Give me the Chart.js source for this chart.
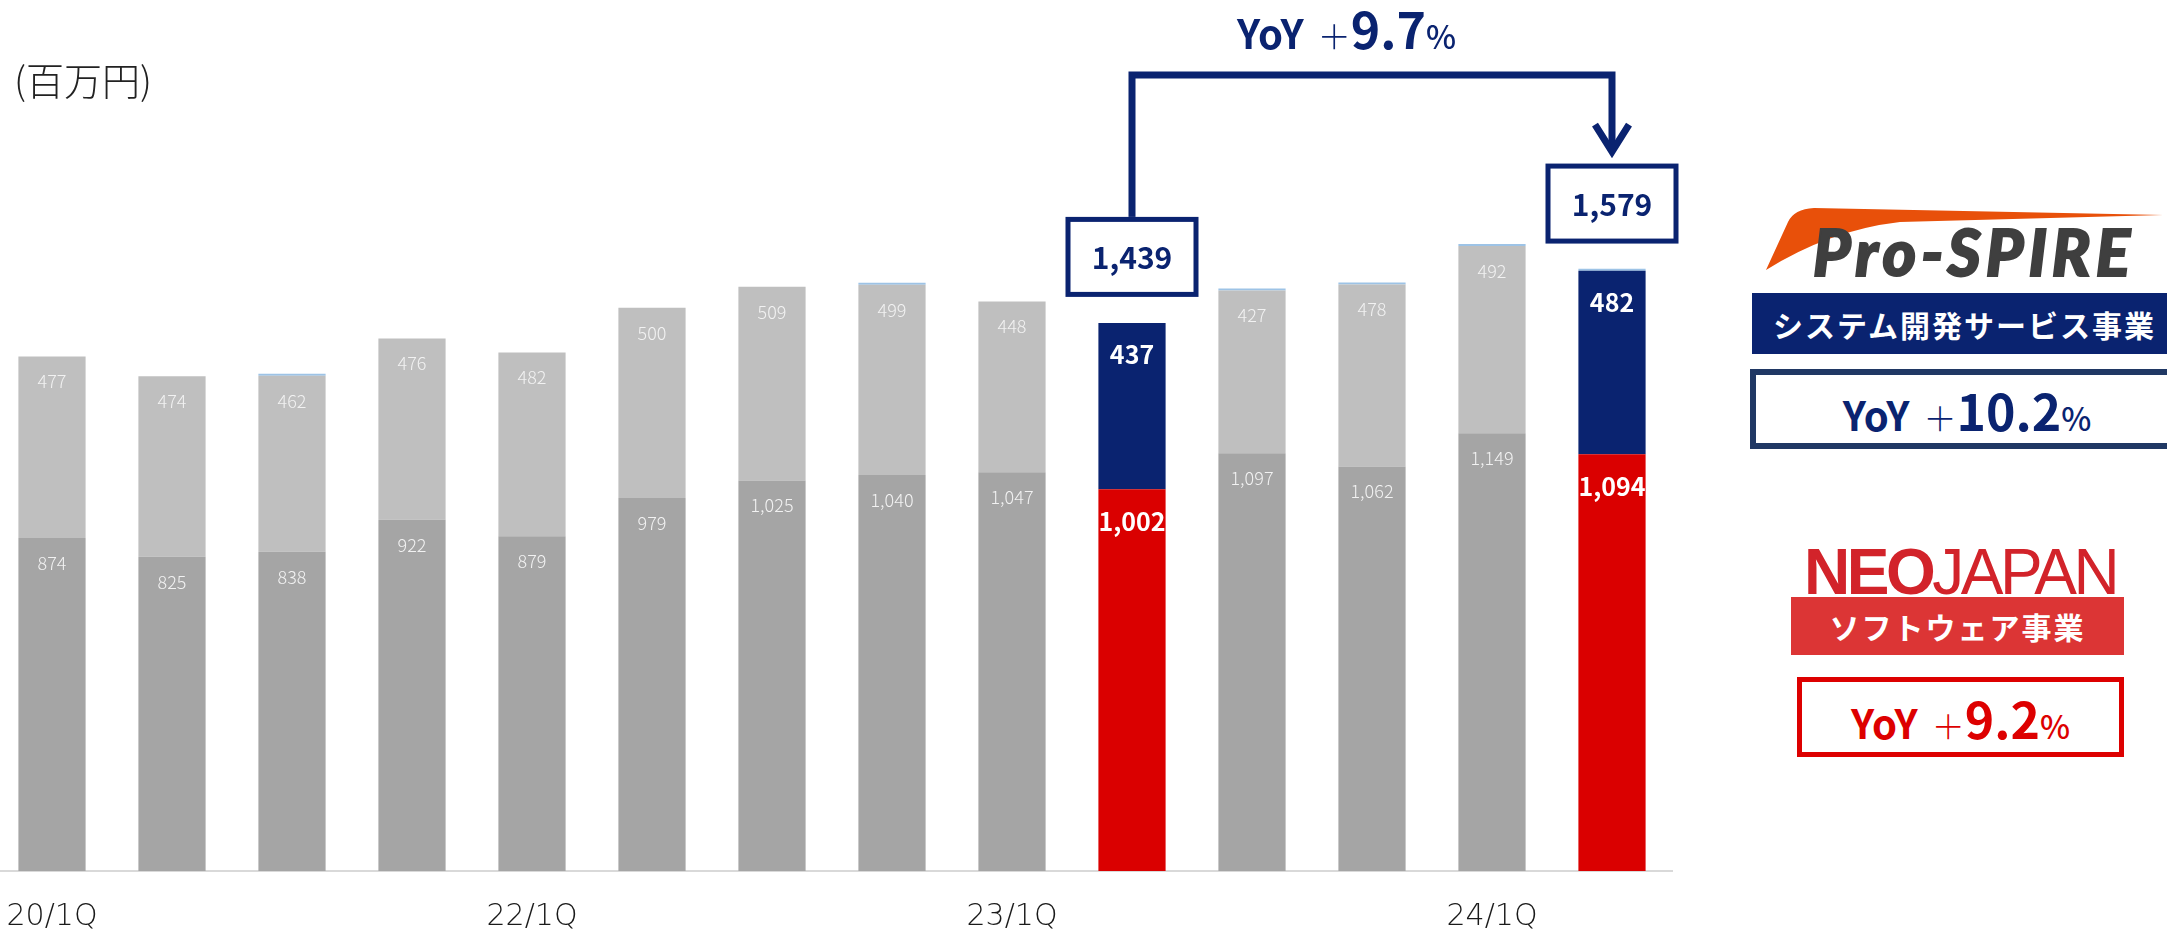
<!DOCTYPE html>
<html lang="ja">
<head>
<meta charset="utf-8">
<title>売上高推移（四半期）</title>
<script src="https://cdn.jsdelivr.net/npm/chart.js@4.4.1/dist/chart.umd.min.js"></script>
<style>
  html, body { margin: 0; padding: 0; background: #fff; }
  body {
    width: 2167px; height: 929px; position: relative; overflow: hidden;
    font-family: "Noto Sans CJK JP", "Noto Sans", sans-serif;
  }
  #chart-wrap { position: absolute; left: -8px; top: 0; width: 2175px; height: 935px; }
  .abs { position: absolute; white-space: nowrap; line-height: 1; }

  .unit { left: 14px; top: 60px; font-size: 38px; font-weight: 300; color: #222; }

  .yoy { display: flex; align-items: baseline; font-weight: bold; line-height: 1; }
  .yoy .y  { font-size: 40px; }
  .yoy .p  { font-size: 33px; font-weight: 300; margin-left: 14px; }
  .yoy .n  { font-size: 50px; }
  .yoy .pc { font-size: 32px; font-weight: 500; }
  .navy { color: #0a2370; }
  .red  { color: #dd0000; }

  .box { position: absolute; box-sizing: border-box; display: flex; align-items: center; justify-content: center; background: #fff; }

  .banner {
    position: absolute; display: flex; align-items: center; justify-content: center;
    color: #fff; font-weight: bold; font-size: 30px; letter-spacing: 2px; line-height: 1;
  }

  .prospire {
    left: 1813px; top: 220px; font-family: Lato, "Noto Sans", sans-serif;
    font-size: 64px; font-weight: 900; font-style: italic; letter-spacing: 5px; color: #3f3f3f;
    -webkit-text-stroke: 2px #3f3f3f;
  }
  .neojapan {
    left: 1804px; top: 540px; font-family: "Liberation Sans", Arial, sans-serif;
    font-size: 64px; letter-spacing: -3.5px; color: #d2232a;
  }
  .neojapan b { font-weight: bold; }
</style>
</head>
<body>

<div id="chart-wrap"><canvas id="chart-sales"></canvas></div>

<div class="abs unit">(百万円)</div>

<!-- 前年同期比（全体） -->
<div class="abs yoy navy" style="left:1237px; top:2px;">
  <span class="y">YoY</span><span class="p">＋</span><span class="n">9.7</span><span class="pc">%</span>
</div>

<!-- Pro-SPIRE: システム開発サービス事業 -->
<svg class="abs" style="left:1760px; top:200px;" width="407" height="80" viewBox="1760 200 407 80">
  <path d="M1766,270 L1788,222 Q1794,209 1814,208 L2163,215 L1900,222 Q1830,230 1766,270 Z" fill="#e8500a"/>
</svg>
<div class="abs prospire">Pro-SPIRE</div>
<div class="banner" style="left:1752px; top:293px; width:415px; height:61px; background:#0a2370; justify-content:flex-start; padding-left:21px; box-sizing:border-box;">システム開発サービス事業</div>
<div class="box" style="left:1750px; top:369px; width:434px; height:80px; border:6px solid #203864;">
  <div class="yoy navy"><span class="y">YoY</span><span class="p">＋</span><span class="n">10.2</span><span class="pc">%</span></div>
</div>

<!-- NEOJAPAN: ソフトウェア事業 -->
<div class="abs neojapan"><b>NEO</b>JAPAN</div>
<div class="banner" style="left:1791px; top:597px; width:333px; height:58px; background:#dc3535;">ソフトウェア事業</div>
<div class="box" style="left:1797px; top:677px; width:327px; height:80px; border:5px solid #dd0000;">
  <div class="yoy red"><span class="y">YoY</span><span class="p">＋</span><span class="n">9.2</span><span class="pc">%</span></div>
</div>

<script>
// 四半期ラベル（表示するものだけ）
const quarters = ['20/1Q', '', '', '', '22/1Q', '', '', '', '23/1Q', '', '', '', '24/1Q', ''];

// ソフトウェア事業（下段）
const software = [874, 825, 838, 922, 879, 979, 1025, 1040, 1047, 1002, 1097, 1062, 1149, 1094];
// システム開発サービス事業（上段）
const systemDev = [477, 474, 462, 476, 482, 500, 509, 499, 448, 437, 427, 478, 492, 482];
// その他（ごく僅か）
const others = [null, null, 3, null, null, null, null, 3, null, null, 3, 3, 3, 3];

// 前年同期比較する四半期
const compareIdx = [9, 13];

const NAVY = '#0a2370';
const RED = '#da0000';
const JP_FONT = '"Noto Sans CJK JP", "Noto Sans", sans-serif';

function segColors(base, hi) {
  return software.map((_, i) => compareIdx.includes(i) ? hi : base);
}

// 各セグメント上部の数値
const segmentLabels = {
  id: 'segmentLabels',
  afterDatasetsDraw(chart) {
    const ctx = chart.ctx;
    ctx.save();
    ctx.textAlign = 'center';
    ctx.textBaseline = 'middle';
    [0, 1].forEach(di => {
      const meta = chart.getDatasetMeta(di);
      const values = chart.data.datasets[di].data;
      meta.data.forEach((bar, i) => {
        const hi = compareIdx.includes(i);
        ctx.font = hi ? `bold 25px ${JP_FONT}` : `300 18px ${JP_FONT}`;
        ctx.fillStyle = hi ? '#ffffff' : '#f2f2f2';
        ctx.fillText(values[i].toLocaleString('en-US'), bar.x, bar.y + (hi ? 32 : 25));
      });
    });
    ctx.restore();
  }
};

// 合計値の枠と前年同期比の矢印
const yoyCallout = {
  id: 'yoyCallout',
  afterDraw(chart) {
    const { ctx, scales: { x, y } } = chart;
    const w = 133, h = 80;
    const boxes = compareIdx.map(i => {
      const total = software[i] + systemDev[i] + (others[i] || 0);
      const cx = x.getPixelForValue(i);
      const bottom = y.getPixelForValue(total) - 26;
      return { cx, top: bottom - h, total };
    });

    ctx.save();
    ctx.strokeStyle = NAVY;
    ctx.lineJoin = 'miter';

    // bracket
    const railY = 75;
    const [b0, b1] = boxes;
    const tipY = b1.top - 12;
    ctx.lineWidth = 7;
    ctx.beginPath();
    ctx.moveTo(b0.cx, b0.top);
    ctx.lineTo(b0.cx, railY);
    ctx.lineTo(b1.cx, railY);
    ctx.lineTo(b1.cx, tipY);
    ctx.stroke();
    ctx.beginPath();
    ctx.moveTo(b1.cx - 17, tipY - 27);
    ctx.lineTo(b1.cx, tipY);
    ctx.lineTo(b1.cx + 17, tipY - 27);
    ctx.stroke();

    // total boxes
    ctx.lineWidth = 5;
    ctx.textAlign = 'center';
    ctx.textBaseline = 'middle';
    ctx.font = `bold 30px ${JP_FONT}`;
    boxes.forEach(b => {
      const left = b.cx - w / 2;
      ctx.fillStyle = '#ffffff';
      ctx.fillRect(left, b.top, w, h);
      ctx.strokeRect(left + 2.5, b.top + 2.5, w - 5, h - 5);
      ctx.fillStyle = NAVY;
      ctx.fillText(b.total.toLocaleString('en-US'), b.cx, b.top + h / 2 + 1);
    });
    ctx.restore();
  }
};

new Chart(document.getElementById('chart-sales'), {
  type: 'bar',
  data: {
    labels: quarters,
    datasets: [
      {
        label: 'ソフトウェア事業',
        data: software,
        backgroundColor: segColors('#a5a5a5', RED),
        borderWidth: 0,
      },
      {
        label: 'システム開発サービス事業',
        data: systemDev,
        backgroundColor: segColors('#bfbfbf', NAVY),
        borderWidth: 0,
      },
      {
        label: 'その他',
        data: others,
        backgroundColor: '#9dc3e6',
        borderWidth: 0,
        minBarLength: 2,
      },
    ],
  },
  options: {
    responsive: true,
    maintainAspectRatio: false,
    animation: false,
    layout: { padding: { left: 0, right: 495, top: 14, bottom: 0 } },
    datasets: { bar: { categoryPercentage: 1, barPercentage: 0.56 } },
    plugins: {
      legend: { display: false },
      tooltip: { enabled: false },
    },
    scales: {
      x: {
        stacked: true,
        // tick marks hidden; tickLength only spaces the labels below the axis
        grid: { display: false, drawTicks: true, tickLength: 28 },
        border: { display: true, color: '#d9d9d9', width: 2 },
        ticks: {
          autoSkip: false,
          maxRotation: 0,
          padding: 0,
          color: '#1a1a1a',
          font: { family: '"DejaVu Sans", sans-serif', size: 30, weight: 200 },
        },
      },
      y: {
        stacked: true,
        display: false,
        min: 0,
        max: 2250,
      },
    },
  },
  plugins: [segmentLabels, yoyCallout],
});
</script>
</body>
</html>
